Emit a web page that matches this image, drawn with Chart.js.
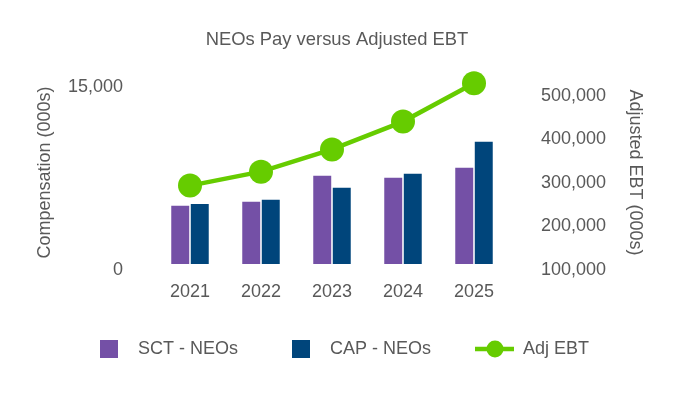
<!DOCTYPE html>
<html>
<head>
<meta charset="utf-8">
<script src="https://cdn.jsdelivr.net/npm/chart.js@4"></script>
<style>
  html, body { margin: 0; padding: 0; background: #ffffff; }
  #wrap { width: 680px; height: 400px; }
</style>
</head>
<body>
<div id="wrap"><canvas id="chart"></canvas></div>
<script>
const years = ['2021', '2022', '2023', '2024', '2025'];
const sctNeos = [4780, 5100, 7240, 7070, 7890];
const capNeos = [4920, 5270, 6250, 7400, 10020];
const adjEbt = [280000, 312000, 363000, 427000, 515000];
const compTicks = [0, 15000];
const ebtTicks = [100000, 200000, 300000, 400000, 500000];

const purple = '#7450a6';
const navy = '#00457b';
const green = '#66cc00';
const grey = '#595959';

Chart.defaults.font.family = '"Liberation Sans", Arial, sans-serif';
Chart.defaults.font.size = 18;
Chart.defaults.color = grey;

// legend icons, drawn inside a 44px wide box
function squareIcon(color) {
    const c = document.createElement('canvas');
    c.width = 44; c.height = 18;
    const g = c.getContext('2d');
    g.fillStyle = color;
    g.fillRect(15, 0, 18, 18);
    return c;
}
function lineIcon(color) {
    const c = document.createElement('canvas');
    c.width = 44; c.height = 20;
    const g = c.getContext('2d');
    g.strokeStyle = color;
    g.lineWidth = 4.5;
    g.beginPath();
    g.moveTo(5, 10);
    g.lineTo(44, 10);
    g.stroke();
    g.fillStyle = color;
    g.beginPath();
    g.arc(25, 10, 8.5, 0, Math.PI * 2);
    g.fill();
    return c;
}
const icons = [squareIcon(purple), squareIcon(navy), lineIcon(green)];

// empty first line pushes the label a few px below its tick, like the original
const fmt = v => ['', Number(v).toLocaleString('en-US')];

new Chart(document.getElementById('chart').getContext('2d'), {
    type: 'bar',
    data: {
        labels: years,
        datasets: [{
            label: 'SCT - NEOs',
            data: sctNeos,
            backgroundColor: purple,
            yAxisID: 'y',
            order: 1,
            categoryPercentage: 0.55,
            barPercentage: 0.92
        }, {
            label: 'CAP - NEOs',
            data: capNeos,
            backgroundColor: navy,
            yAxisID: 'y',
            order: 1,
            categoryPercentage: 0.55,
            barPercentage: 0.92
        }, {
            type: 'line',
            label: 'Adj EBT',
            data: adjEbt,
            borderColor: green,
            backgroundColor: green,
            borderWidth: 4.5,
            pointRadius: 12,
            pointHoverRadius: 12,
            pointBackgroundColor: green,
            pointBorderWidth: 0,
            tension: 0,
            fill: false,
            clip: false,
            yAxisID: 'y1',
            order: 0
        }]
    },
    options: {
        responsive: true,
        maintainAspectRatio: false,
        animation: false,
        layout: {
            padding: { left: 17, right: 23, top: 0, bottom: 32 }
        },
        plugins: {
            title: {
                display: true,
                text: 'NEOs Pay versus Adjusted EBT',
                color: grey,
                font: { size: 18.4, weight: 'normal' },
                padding: { top: 29, bottom: 30 }
            },
            legend: {
                position: 'bottom',
                labels: {
                    usePointStyle: true,
                    pointStyleWidth: 44,
                    boxHeight: 18,
                    padding: 39,
                    color: grey,
                    font: { size: 18 },
                    sort: (a, b) => a.datasetIndex - b.datasetIndex,
                    generateLabels: function (chart) {
                        const items = Chart.defaults.plugins.legend.labels.generateLabels(chart);
                        items.forEach(it => { it.pointStyle = icons[it.datasetIndex]; });
                        return items;
                    }
                }
            },
            tooltip: { enabled: false }
        },
        scales: {
            x: {
                offset: true,
                grid: { display: false, drawTicks: false },
                border: { display: false },
                ticks: { padding: 19, color: grey, font: { size: 18, lineHeight: 1 } },
                afterFit: function (scale) { scale.height = 37; }
            },
            y: {
                position: 'left',
                min: 0,
                max: 15000,
                grid: { display: false, drawTicks: false },
                border: { display: false },
                ticks: { padding: 31.5, color: grey, font: { size: 18, lineHeight: 0.65 }, callback: v => fmt(v) },
                afterBuildTicks: function (scale) {
                    scale.ticks = compTicks.map(v => ({ value: v }));
                },
                afterFit: function (scale) { scale.width = 137.5; },
                title: {
                    display: true,
                    text: 'Compensation (000s)',
                    color: grey,
                    font: { size: 18 },
                    padding: { top: 17, bottom: 0 }
                }
            },
            y1: {
                position: 'right',
                min: 100000,
                max: 520000,
                grid: { display: false, drawTicks: false },
                border: { display: false },
                ticks: { padding: 31.5, color: grey, font: { size: 18, lineHeight: 0.65 }, callback: v => fmt(v) },
                afterBuildTicks: function (scale) {
                    scale.ticks = ebtTicks.map(v => ({ value: v }));
                },
                afterFit: function (scale) { scale.width = 147.5; },
                title: {
                    display: true,
                    text: 'Adjusted EBT (000s)',
                    color: grey,
                    font: { size: 18 },
                    padding: { top: 11, bottom: 0 }
                }
            }
        }
    }
});
</script>
</body>
</html>
